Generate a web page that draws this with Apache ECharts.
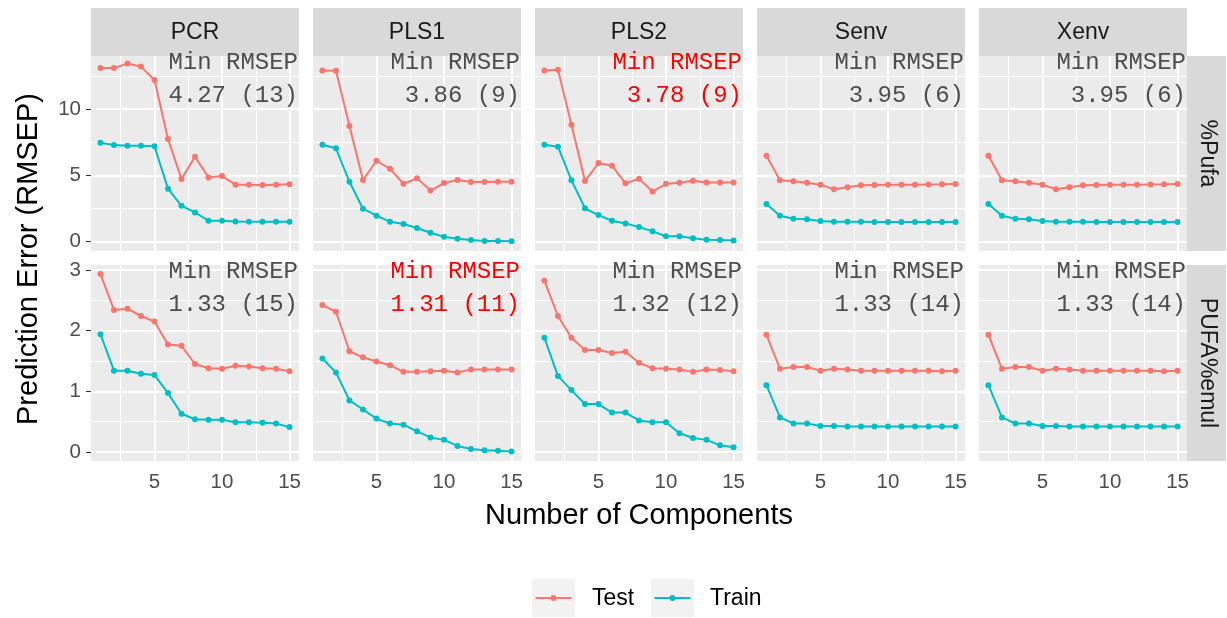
<!DOCTYPE html>
<html><head><meta charset="utf-8">
<script src="https://cdn.jsdelivr.net/npm/echarts@6/dist/echarts.min.js"></script>
<style>html,body{margin:0;padding:0;background:#fff}#c{width:1227px;height:618px}</style>
</head><body><div id="c"></div>
<script>
// ---------------- data ----------------
const components = [1,2,3,4,5,6,7,8,9,10,11,12,13,14,15];
const methods = ['PCR','PLS1','PLS2','Senv','Xenv'];
const responses = ['%Pufa','PUFA%emul'];
const seriesNames = ['Test','Train'];

// %Pufa
const pcrPufaTest   = [13.09,13.09,13.44,13.20,12.19,7.74,4.72,6.41,4.85,4.95,4.30,4.30,4.27,4.30,4.33];
const pcrPufaTrain  = [7.46,7.29,7.23,7.23,7.19,4.00,2.71,2.21,1.58,1.58,1.53,1.51,1.51,1.51,1.51];
const pls1PufaTest  = [12.91,12.89,8.72,4.65,6.10,5.50,4.37,4.78,3.86,4.42,4.65,4.50,4.50,4.52,4.52];
const pls1PufaTrain = [7.31,7.04,4.52,2.49,1.96,1.51,1.33,1.03,0.68,0.38,0.23,0.13,0.05,0.05,0.03];
const pls2PufaTest  = [12.91,12.96,8.82,4.57,5.93,5.73,4.40,4.75,3.78,4.37,4.45,4.60,4.47,4.47,4.47];
const pls2PufaTrain = [7.31,7.16,4.63,2.52,2.01,1.58,1.38,1.11,0.78,0.41,0.41,0.26,0.15,0.13,0.10];
const senvPufaTest  = [6.48,4.63,4.55,4.45,4.30,3.95,4.10,4.25,4.28,4.30,4.30,4.30,4.32,4.33,4.35];
const senvPufaTrain = [2.84,1.96,1.73,1.69,1.56,1.51,1.50,1.50,1.49,1.49,1.49,1.49,1.48,1.48,1.48];
const xenvPufaTest  = [6.48,4.63,4.55,4.45,4.30,3.95,4.10,4.25,4.28,4.30,4.30,4.30,4.32,4.33,4.35];
const xenvPufaTrain = [2.84,1.96,1.73,1.69,1.56,1.51,1.50,1.50,1.49,1.49,1.49,1.49,1.48,1.48,1.48];

// PUFA%emul
const pcrEmulTest   = [2.93,2.34,2.36,2.24,2.15,1.77,1.75,1.45,1.38,1.37,1.42,1.41,1.38,1.37,1.33];
const pcrEmulTrain  = [1.94,1.34,1.34,1.29,1.27,0.97,0.63,0.54,0.53,0.53,0.49,0.49,0.48,0.47,0.41];
const pls1EmulTest  = [2.42,2.31,1.66,1.56,1.49,1.43,1.32,1.32,1.33,1.34,1.31,1.36,1.36,1.36,1.36];
const pls1EmulTrain = [1.54,1.31,0.85,0.70,0.55,0.47,0.45,0.34,0.24,0.20,0.10,0.05,0.03,0.02,0.01];
const pls2EmulTest  = [2.82,2.24,1.88,1.68,1.68,1.63,1.65,1.47,1.38,1.37,1.36,1.32,1.36,1.35,1.33];
const pls2EmulTrain = [1.88,1.25,1.02,0.79,0.79,0.65,0.65,0.52,0.49,0.49,0.31,0.23,0.20,0.11,0.08];
const senvEmulTest  = [1.93,1.37,1.40,1.40,1.34,1.37,1.36,1.34,1.34,1.34,1.34,1.34,1.34,1.33,1.34];
const senvEmulTrain = [1.10,0.57,0.47,0.47,0.43,0.43,0.42,0.42,0.42,0.42,0.42,0.42,0.42,0.42,0.42];
const xenvEmulTest  = [1.93,1.37,1.40,1.40,1.34,1.37,1.36,1.34,1.34,1.34,1.34,1.34,1.34,1.33,1.34];
const xenvEmulTrain = [1.10,0.57,0.47,0.47,0.43,0.43,0.42,0.42,0.42,0.42,0.42,0.42,0.42,0.42,0.42];

const minLabelsPufa = ['4.27 (13)','3.86 (9)','3.78 (9)','3.95 (6)','3.95 (6)'];
const minLabelsEmul = ['1.33 (15)','1.31 (11)','1.32 (12)','1.33 (14)','1.33 (14)'];
const bestPufa = 'PLS2';
const bestEmul = 'PLS1';

const xTicks = [5,10,15];
const xMinor = [2.5,7.5,12.5];
const yTicksPufa = [0,5,10];
const yMinorPufa = [2.5,7.5,12.5];
const yTicksEmul = [0,1,2,3];
const yMinorEmul = [0.5,1.5,2.5];

// ---------------- assembly ----------------
const panelData = [
  [[pcrPufaTest,pcrPufaTrain],[pls1PufaTest,pls1PufaTrain],[pls2PufaTest,pls2PufaTrain],[senvPufaTest,senvPufaTrain],[xenvPufaTest,xenvPufaTrain]],
  [[pcrEmulTest,pcrEmulTrain],[pls1EmulTest,pls1EmulTrain],[pls2EmulTest,pls2EmulTrain],[senvEmulTest,senvEmulTrain],[xenvEmulTest,xenvEmulTrain]]
];
const minLabels = [minLabelsPufa, minLabelsEmul];
const bestMethod = [bestPufa, bestEmul];
const yTicks = [yTicksPufa, yTicksEmul];
const yMinor = [yMinorPufa, yMinorEmul];
const yRange = [[-0.70, 14.0], [-0.148, 3.08]];
const xRange = [0.3, 15.7];

const COLORS = ['#F8766D', '#00BFC4'];
const FONT = '"Liberation Sans", Arial, Helvetica, sans-serif';
const MONO = '"Liberation Mono", "Courier New", monospace';
const PANEL_LEFT = 91, PANEL_W = 208, PANEL_GAP = 14;
const ROW_TOP = [56, 265], ROW_H = [195, 196];
const STRIP_TOP = 8, STRIP_H = 48, RSTRIP_W = 39;

const grids = [], xAxes = [], yAxes = [], series = [], graphics = [];

for (let r = 0; r < 2; r++) {
  for (let c = 0; c < 5; c++) {
    const gi = r * 5 + c;
    const left = PANEL_LEFT + c * (PANEL_W + PANEL_GAP);
    grids.push({left: left, top: ROW_TOP[r], width: PANEL_W, height: ROW_H[r],
      show: true, backgroundColor: '#EBEBEB', borderWidth: 0, containLabel: false});
    xAxes.push({
      type: 'value', gridIndex: gi, min: xRange[0], max: xRange[1],
      axisLine: {show: false},
      axisTick: {show: r === 1, length: 4, lineStyle: {color: '#333333', width: 1}, customValues: xTicks},
      axisLabel: {show: r === 1, customValues: xTicks, fontSize: 20.5, color: '#4D4D4D', fontFamily: FONT, margin: 11},
      splitLine: {show: false}
    });
    yAxes.push({
      type: 'value', gridIndex: gi, min: yRange[r][0], max: yRange[r][1],
      axisLine: {show: false},
      axisTick: {show: c === 0, length: 5, lineStyle: {color: '#333333', width: 1}, customValues: yTicks[r]},
      axisLabel: {show: c === 0, customValues: yTicks[r], fontSize: 20.5, color: '#4D4D4D', fontFamily: FONT, margin: 10},
      splitLine: {show: false}
    });
    // gridlines (from tick arrays)
    const ml = [];
    xMinor.forEach(v => ml.push({xAxis: v, lineStyle: {width: 1}}));
    yMinor[r].forEach(v => ml.push({yAxis: v, lineStyle: {width: 1}}));
    xTicks.forEach(v => ml.push({xAxis: v, lineStyle: {width: 2}}));
    yTicks[r].forEach(v => ml.push({yAxis: v, lineStyle: {width: 2}}));
    series.push({
      type: 'line', name: 'grid' + gi, xAxisIndex: gi, yAxisIndex: gi, data: [], silent: true, z: 1,
      markLine: {silent: true, z: 1, symbol: 'none', label: {show: false}, animation: false,
        lineStyle: {color: '#FFFFFF', type: 'solid'}, emphasis: {disabled: true}, data: ml}
    });
    panelData[r][c].forEach((vals, si) => {
      series.push({
        type: 'line', name: seriesNames[si], xAxisIndex: gi, yAxisIndex: gi, z: 6,
        data: components.map((x, i) => [x, vals[i]]),
        symbol: 'circle', symbolSize: 6, showSymbol: true,
        lineStyle: {color: COLORS[si], width: 2},
        itemStyle: {color: COLORS[si]},
        emphasis: {disabled: true}, animation: false
      });
    });
    // annotation text
    const isBest = methods[c] === bestMethod[r];
    const tc = isBest ? '#FF0000' : '#4D4D4D';
    graphics.push({type: 'text', z: 10, x: left + PANEL_W - 1, y: ROW_TOP[r] + 7,
      style: {text: 'Min RMSEP', fontSize: 24, fontFamily: MONO, fill: tc, align: 'right', verticalAlign: 'middle'}});
    graphics.push({type: 'text', z: 10, x: left + PANEL_W - 1, y: ROW_TOP[r] + 39.5,
      style: {text: minLabels[r][c], fontSize: 24, fontFamily: MONO, fill: tc, align: 'right', verticalAlign: 'middle'}});
  }
}

// top strips
methods.forEach((m, c) => {
  const left = PANEL_LEFT + c * (PANEL_W + PANEL_GAP);
  graphics.push({type: 'rect', shape: {x: left, y: STRIP_TOP, width: PANEL_W, height: STRIP_H}, style: {fill: '#D9D9D9'}});
  graphics.push({type: 'text', x: left + PANEL_W / 2, y: STRIP_TOP + STRIP_H / 2 + 1,
    style: {text: m, fontSize: 23, fontFamily: FONT, fill: '#1A1A1A', align: 'center', verticalAlign: 'middle'}});
});
// right strips
const RX = PANEL_LEFT + 5 * PANEL_W + 4 * PANEL_GAP;
responses.forEach((resp, r) => {
  graphics.push({type: 'rect', shape: {x: RX, y: ROW_TOP[r], width: RSTRIP_W, height: ROW_H[r]}, style: {fill: '#D9D9D9'}});
  graphics.push({type: 'text', x: RX + RSTRIP_W / 2 + 1, y: ROW_TOP[r] + ROW_H[r] / 2, rotation: -Math.PI / 2,
    style: {text: resp, fontSize: 23, fontFamily: FONT, fill: '#1A1A1A', align: 'center', verticalAlign: 'middle'}});
});
// axis titles
graphics.push({type: 'text', x: 639, y: 516,
  style: {text: 'Number of Components', fontSize: 29, fontFamily: FONT, fill: '#000000', align: 'center', verticalAlign: 'middle'}});
graphics.push({type: 'text', x: 29, y: 259, rotation: Math.PI / 2,
  style: {text: 'Prediction Error (RMSEP)', fontSize: 29, fontFamily: FONT, fill: '#000000', align: 'center', verticalAlign: 'middle'}});
// legend
const legendKeys = [532, 651];
const legendText = [592, 710];
seriesNames.forEach((n, i) => {
  const kx = legendKeys[i];
  graphics.push({type: 'rect', shape: {x: kx, y: 579, width: 43, height: 38}, style: {fill: '#F2F2F2'}});
  graphics.push({type: 'line', shape: {x1: kx + 3.5, y1: 598, x2: kx + 39.5, y2: 598}, style: {stroke: COLORS[i], lineWidth: 2}});
  graphics.push({type: 'circle', shape: {cx: kx + 21.5, cy: 598, r: 3}, style: {fill: COLORS[i]}});
  graphics.push({type: 'text', x: legendText[i], y: 599,
    style: {text: n, fontSize: 23, fontFamily: FONT, fill: '#000000', align: 'left', verticalAlign: 'middle'}});
});

const chart = echarts.init(document.getElementById('c'), null, {renderer: 'canvas'});
chart.setOption({
  animation: false,
  backgroundColor: '#FFFFFF',
  grid: grids, xAxis: xAxes, yAxis: yAxes, series: series,
  graphic: {elements: graphics}
});
</script></body></html>
